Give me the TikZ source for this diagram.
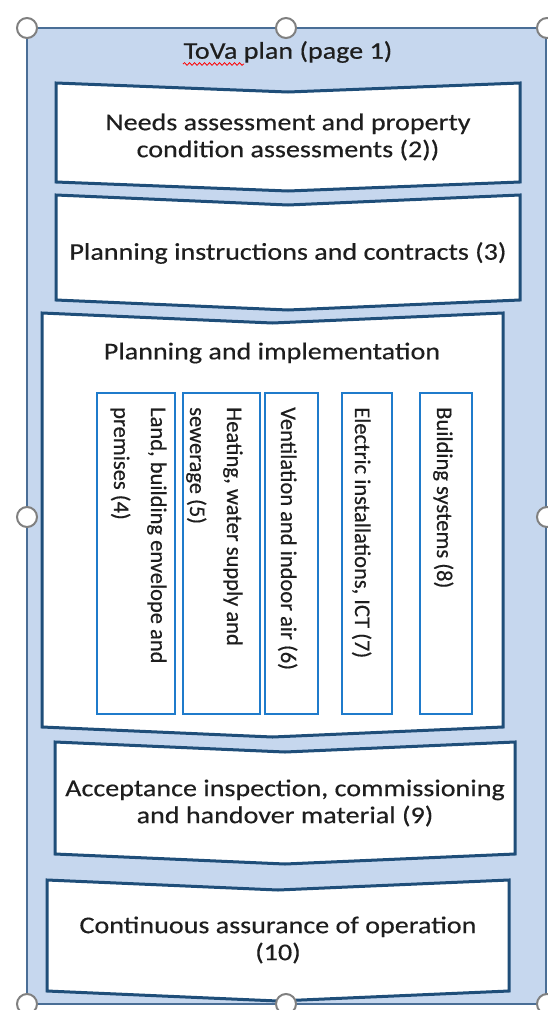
\documentclass[tikz,border=0pt]{standalone}
\usepackage{fontspec}
\setmainfont{Carlito}
\newfontfamily\widefont{Carlito}[FakeStretch=1.17,FakeBold=0.4]
\newfontfamily\vfont{Carlito}[FakeBold=0.4]
\usetikzlibrary{decorations.pathmorphing}
\definecolor{framefill}{HTML}{C6D7EE}
\definecolor{frameline}{HTML}{4A6E96}
\definecolor{chevline}{HTML}{1F4E79}
\definecolor{subline}{HTML}{1F7BCB}
\definecolor{txt}{HTML}{1E1E1E}
\definecolor{handle}{HTML}{808080}
\tikzset{
  chev/.style={draw=chevline, line width=3pt, fill=white, line join=miter},
  subbox/.style={draw=subline, line width=1.8pt, fill=none},
  maintext/.style={text=txt, font=\widefont\fontsize{24}{27}\selectfont, align=center, inner sep=0pt},
  vtext/.style={text=txt, font=\vfont\fontsize{22.5}{26}\selectfont, rotate=-90, anchor=base west, inner sep=0pt},
  handlecirc/.style={draw=handle, line width=2pt, fill=white, circle, minimum size=20pt, inner sep=0pt},
}
\newcommand{\chevbox}[5]{% left right top bottom depth
  \pgfmathsetmacro{\cx}{(#1+#2)/2}
  \path[chev] (#1,#3) -- (\cx,#3+#5) -- (#2,#3) -- (#2,#4) -- (\cx,#4+#5) -- (#1,#4) -- cycle;
}
\begin{document}
\begin{tikzpicture}[x=1pt,y=-1pt]
\useasboundingbox (0,0) rectangle (547,1010);
% outer frame
\path[fill=framefill, draw=frameline, line width=2.2pt] (27,28) rectangle (546,1004);
% chevrons
\chevbox{56}{520}{83}{182}{9}
\chevbox{56}{520}{195}{300}{10}
\chevbox{42}{503}{313}{727}{10}
\chevbox{55}{515}{742}{854}{10}
\chevbox{47}{509}{880}{991}{10}
% texts
\node[maintext] (title) at (288,52) {ToVa plan (page 1)};
\draw[red, line width=0.8pt, decorate, decoration={snake, amplitude=1.3pt, segment length=5pt}] (183,64) -- (244,64);
\node[maintext] (needs) at (288,137) {Needs assessment and property\\condition assessments (2))};
\node[maintext] (instr) at (288,253) {Planning instructions and contracts (3)};
\node[maintext] (impl) at (272,353) {Planning and implementation};
\node[maintext] (accept) at (285,803) {Acceptance inspection, commissioning\\and handover material (9)};
\node[maintext] (cont) at (278,940) {Continuous assurance of operation\\(10)};
% sub boxes
\path[subbox] (97,393) rectangle (175,714);
\path[subbox] (183,393) rectangle (260,714);
\path[subbox] (265,393) rectangle (318,714);
\path[subbox] (342,393) rectangle (392,714);
\path[subbox] (420,393) rectangle (472,714);
\node[vtext] (landa) at (151,407) {Land, building envelope and};
\node[vtext] (landb) at (114,407) {premises (4)};
\node[vtext] (heata) at (227,407) {Heating, water supply and};
\node[vtext] (heatb) at (190,407) {sewerage (5)};
\node[vtext] (vent) at (281,407) {Ventilation and indoor air (6)};
\node[vtext] (elec) at (355,407) {Electric installations, ICT (7)};
\node[vtext] (bsys) at (437,407) {Building systems (8)};
% handles
\node[handlecirc] (h1) at (27,28) {};
\node[handlecirc] (h2) at (286,28) {};
\node[handlecirc] (h3) at (547,28) {};
\node[handlecirc] (h4) at (27,517) {};
\node[handlecirc] (h5) at (547,517) {};
\node[handlecirc] (h6) at (27,1004) {};
\node[handlecirc] (h7) at (286,1004) {};
\node[handlecirc] (h8) at (547,1004) {};
\end{tikzpicture}
\end{document}
